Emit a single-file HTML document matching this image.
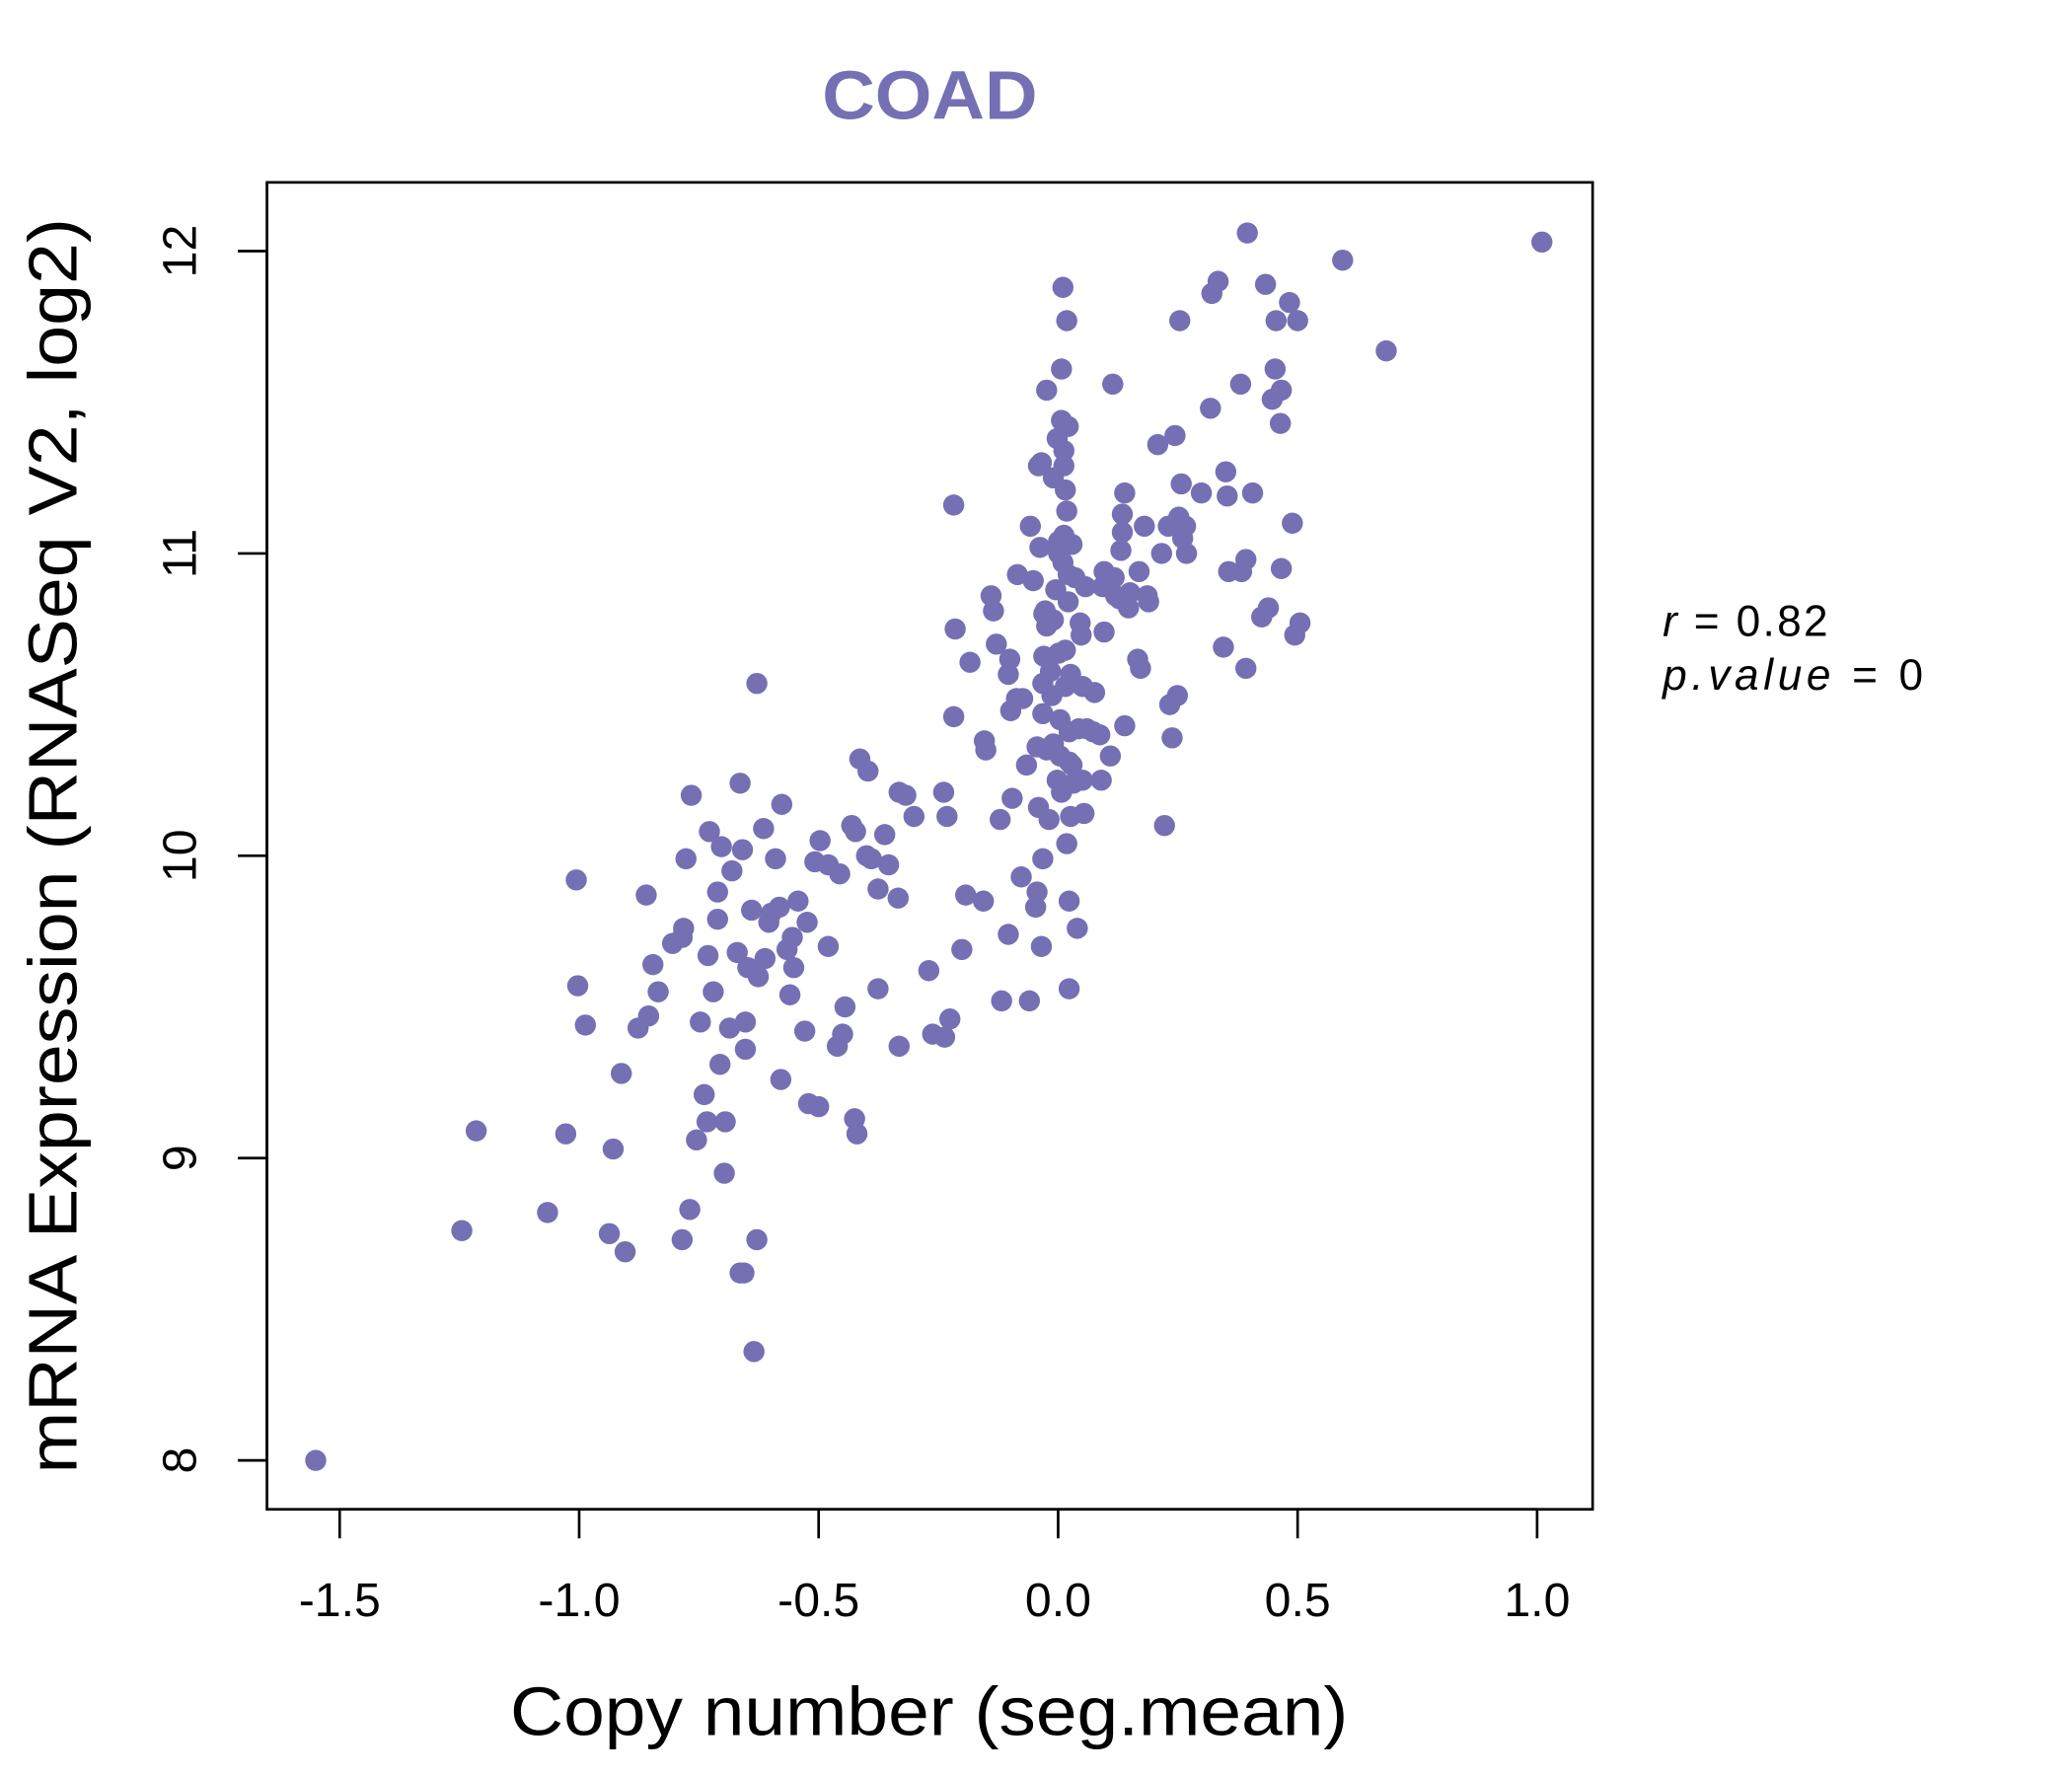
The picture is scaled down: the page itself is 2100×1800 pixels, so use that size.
<!DOCTYPE html>
<html><head><meta charset="utf-8"><title>COAD</title>
<style>html,body{margin:0;padding:0;background:#fff;}svg{display:block;}</style></head>
<body>
<svg id="chart" xmlns="http://www.w3.org/2000/svg" width="2100" height="1800" viewBox="0 0 1567.7 1343.8" preserveAspectRatio="none" font-family="'Liberation Sans', sans-serif">
<rect x="0" y="0" width="1568" height="1344" fill="#fff"/>
<text x="622" y="90" textLength="163" lengthAdjust="spacingAndGlyphs" font-size="52" font-weight="bold" fill="#7570b3">COAD</text>
<rect x="202" y="138" width="1003" height="1004" fill="none" stroke="#000" stroke-width="2"/>
<g id="xaxis"></g>
<g id="yaxis"></g>
<g id="points"></g>
<text x="386" y="1313" textLength="634" lengthAdjust="spacingAndGlyphs" font-size="52">Copy number (seg.mean)</text>
<text transform="translate(58,1115) rotate(-90)" textLength="950" lengthAdjust="spacingAndGlyphs" font-size="52">mRNA Expression (RNASeq V2, log2)</text>
<text x="1258" y="481" font-size="33" textLength="125" lengthAdjust="spacing"><tspan font-style="italic">r</tspan> = 0.82</text>
<text x="1258" y="522" font-size="33" textLength="197" lengthAdjust="spacing"><tspan font-style="italic">p.value</tspan> = 0</text>
</svg>
<script>
const xTicks = [-1.5, -1.0, -0.5, 0.0, 0.5, 1.0];
const xTickLabels = ["-1.5", "-1.0", "-0.5", "0.0", "0.5", "1.0"];
const yTicks = [8, 9, 10, 11, 12];
const yTickLabels = ["8", "9", "10", "11", "12"];
const copyNumber = [-1.55,-1.245,-1.215,-1.066,-1.028,-1.006,-1.003,-0.987,-0.937,-0.929,-0.912,-0.904,-0.877,-0.86,-0.855,-0.846,-0.835,-0.805,-0.785,-0.782,-0.785,-0.777,-0.769,-0.766,-0.755,-0.747,-0.739,-0.733,-0.731,-0.728,-0.72,-0.711,-0.711,-0.706,-0.703,-0.697,-0.695,-0.686,-0.681,-0.67,-0.664,-0.664,-0.659,-0.656,-0.653,-0.653,-0.648,-0.64,-0.635,-0.629,-0.629,-0.626,-0.615,-0.612,-0.604,-0.599,-0.59,-0.582,-0.579,-0.577,-0.566,-0.56,-0.555,-0.552,-0.543,-0.529,-0.524,-0.521,-0.508,-0.5,-0.497,-0.48,-0.48,-0.461,-0.456,-0.45,-0.445,-0.431,-0.425,-0.42,-0.423,-0.414,-0.4,-0.397,-0.39,-0.376,-0.376,-0.362,-0.354,-0.334,-0.332,-0.332,-0.318,-0.301,-0.27,-0.262,-0.239,-0.237,-0.232,-0.226,-0.218,-0.218,-0.215,-0.201,-0.193,-0.184,-0.156,-0.154,-0.151,-0.14,-0.135,-0.129,-0.121,-0.118,-0.104,-0.104,-0.101,-0.099,-0.096,-0.087,-0.085,-0.077,-0.074,-0.066,-0.06,-0.058,-0.052,-0.047,-0.044,-0.044,-0.041,-0.041,-0.038,-0.035,-0.035,-0.032,-0.032,-0.032,-0.03,-0.03,-0.027,-0.024,-0.024,-0.024,-0.019,-0.016,-0.013,-0.01,-0.01,-0.01,-0.005,-0.002,-0.002,0.001,0.001,0.001,0.004,0.004,0.007,0.007,0.007,0.01,0.01,0.012,0.012,0.012,0.015,0.015,0.015,0.018,0.018,0.018,0.021,0.021,0.021,0.023,0.023,0.023,0.023,0.026,0.026,0.029,0.029,0.032,0.035,0.04,0.043,0.046,0.048,0.051,0.051,0.054,0.057,0.06,0.073,0.076,0.087,0.09,0.093,0.096,0.096,0.109,0.114,0.117,0.12,0.128,0.131,0.134,0.134,0.139,0.139,0.142,0.147,0.15,0.166,0.169,0.172,0.18,0.186,0.189,0.208,0.216,0.222,0.23,0.233,0.238,0.244,0.249,0.252,0.254,0.257,0.26,0.266,0.268,0.299,0.318,0.321,0.334,0.345,0.35,0.353,0.356,0.381,0.383,0.392,0.392,0.395,0.406,0.425,0.433,0.439,0.447,0.453,0.455,0.464,0.466,0.466,0.483,0.489,0.494,0.5,0.505,0.594,0.685,1.01];
const expression = [8.0,8.76,9.09,8.82,9.08,9.92,9.57,9.44,8.75,9.03,9.28,8.69,9.43,9.87,9.47,9.64,9.55,9.71,9.73,9.76,8.73,9.99,8.83,10.2,9.06,9.45,9.21,9.12,9.67,10.08,9.55,9.79,9.88,9.31,10.03,8.95,9.12,9.43,9.95,9.68,10.24,8.62,10.02,8.62,9.45,9.36,9.63,9.82,8.36,8.73,10.57,9.6,10.09,9.66,9.78,9.81,9.99,9.83,9.26,10.17,9.69,9.54,9.73,9.63,9.85,9.42,9.78,9.18,9.98,9.17,10.05,9.7,9.97,9.37,9.94,9.41,9.5,10.1,9.13,9.08,10.08,10.32,10.0,10.28,9.99,9.89,9.56,10.07,9.97,9.86,9.37,10.21,10.2,10.13,9.62,9.41,10.21,9.4,10.13,9.46,11.16,10.46,10.75,9.69,9.87,10.64,9.85,10.38,10.35,10.86,10.81,10.7,10.12,9.52,9.74,10.6,10.65,10.48,10.19,10.52,10.93,9.93,10.52,10.3,9.52,11.09,10.91,9.83,9.88,10.36,10.16,11.29,11.02,9.7,11.3,9.99,10.47,10.57,10.66,10.8,10.81,10.35,10.76,11.54,10.12,10.61,10.53,10.37,10.78,11.25,10.88,10.25,11.38,11.0,11.04,10.67,10.45,10.33,10.21,11.44,11.61,11.88,10.97,11.29,11.34,11.06,10.56,10.68,11.21,11.14,10.04,11.77,11.42,10.93,10.84,10.41,10.31,9.85,9.56,10.13,10.6,11.03,10.3,10.24,10.92,9.76,10.42,10.77,10.73,10.25,10.56,10.14,10.89,10.42,10.41,10.54,10.4,10.25,10.89,10.74,10.94,10.33,11.56,10.92,10.86,10.85,11.01,11.07,11.13,10.43,11.2,10.84,10.82,10.87,10.65,10.94,10.62,11.09,10.86,10.84,11.36,11.0,10.1,11.09,10.5,10.39,11.39,10.53,11.12,11.77,11.23,11.05,11.09,11.0,11.2,11.48,11.86,11.9,10.69,11.27,11.19,10.94,11.56,10.94,10.62,10.98,12.06,11.2,10.79,11.89,10.82,11.51,11.61,11.77,11.43,11.54,10.95,11.83,11.1,10.73,11.77,10.77,11.97,11.67,12.03];

const NS = "http://www.w3.org/2000/svg";
function xScale(v){ return 800.6 + v * 362.4; }
function yScale(v){ return 190 + (12 - v) * 228.75; }

const xg = document.getElementById('xaxis');
const xl = document.createElementNS(NS,'line');
xl.setAttribute('x1', xScale(xTicks[0])); xl.setAttribute('x2', xScale(xTicks[xTicks.length-1]));
xl.setAttribute('y1', 1142); xl.setAttribute('y2', 1142); xl.setAttribute('stroke','#000'); xl.setAttribute('stroke-width','2');


xg.appendChild(xl);
xTicks.forEach((t,i)=>{
  const l = document.createElementNS(NS,'line');
  l.setAttribute('x1', xScale(t)); l.setAttribute('x2', xScale(t));
  l.setAttribute('y1', 1142); l.setAttribute('y2', 1164); l.setAttribute('stroke','#000'); l.setAttribute('stroke-width','2');
  
  
  xg.appendChild(l);
  const tx = document.createElementNS(NS,'text');
  tx.setAttribute('x', xScale(t)); tx.setAttribute('y', 1223); tx.setAttribute('text-anchor','middle'); tx.setAttribute('font-size','36');
  tx.textContent = xTickLabels[i];
  
  
  xg.appendChild(tx);
});

const yg = document.getElementById('yaxis');
const yl = document.createElementNS(NS,'line');
yl.setAttribute('x1', 202); yl.setAttribute('x2', 202);
yl.setAttribute('y1', yScale(yTicks[0])); yl.setAttribute('y2', yScale(yTicks[yTicks.length-1])); yl.setAttribute('stroke','#000'); yl.setAttribute('stroke-width','2');


yg.appendChild(yl);
yTicks.forEach((t,i)=>{
  const l = document.createElementNS(NS,'line');
  l.setAttribute('x1', 180); l.setAttribute('x2', 202);
  l.setAttribute('y1', yScale(t)); l.setAttribute('y2', yScale(t)); l.setAttribute('stroke','#000'); l.setAttribute('stroke-width','2');
  
  
  yg.appendChild(l);
  const tx = document.createElementNS(NS,'text');
  tx.setAttribute('transform', 'translate(148,' + yScale(t) + ') rotate(-90)');
  tx.setAttribute('text-anchor','middle'); tx.setAttribute('font-size','36');
  tx.textContent = yTickLabels[i];
  
  
  yg.appendChild(tx);
});

const pg = document.getElementById('points');
copyNumber.forEach((v,i)=>{
  const c = document.createElementNS(NS,'circle');
  c.setAttribute('cx', xScale(v)); c.setAttribute('cy', yScale(expression[i]));
  c.setAttribute('r', 8); c.setAttribute('fill', '#7570b3');
  
  
  pg.appendChild(c);
});
</script>
</body></html>
